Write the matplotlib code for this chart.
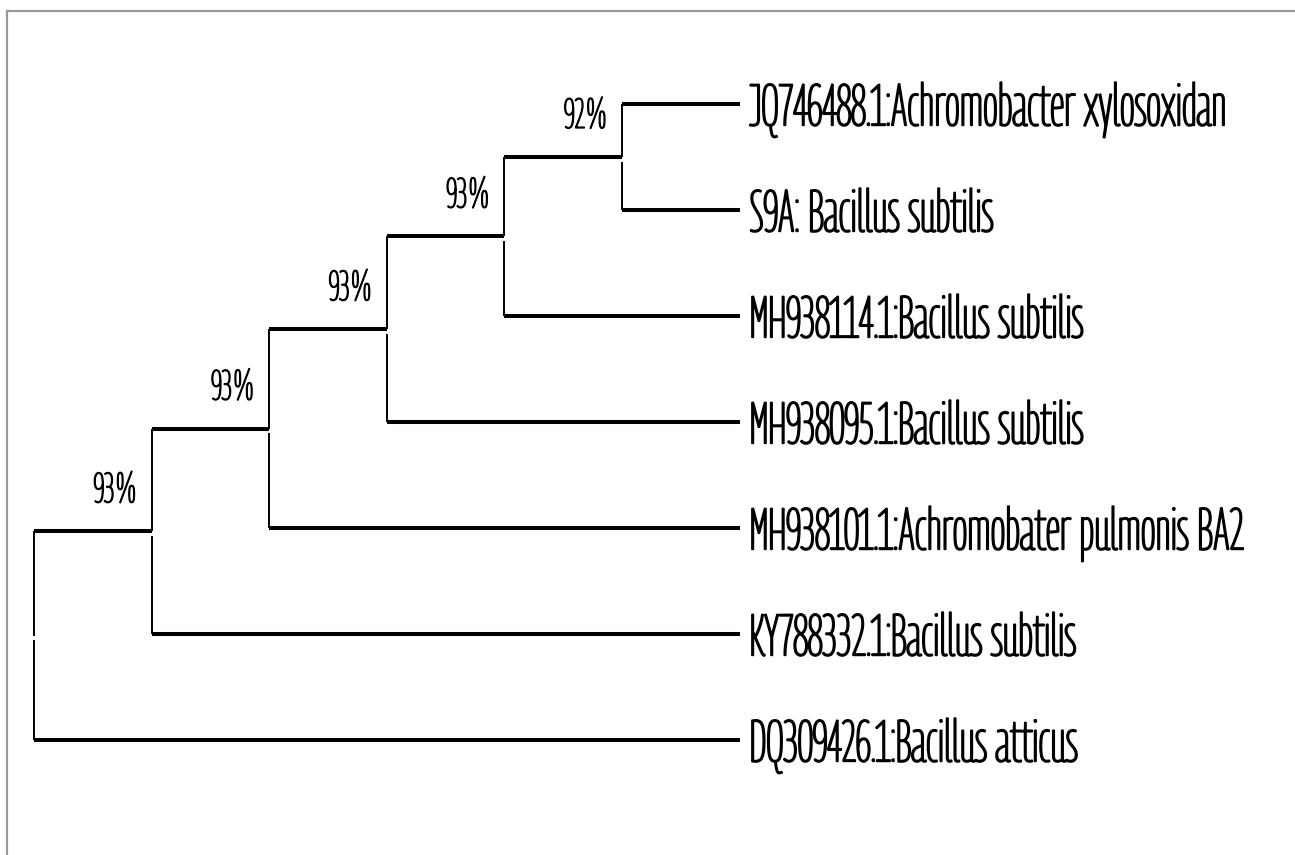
import matplotlib
matplotlib.use('Agg')
import matplotlib.pyplot as plt
import matplotlib.patheffects as pe
from matplotlib.lines import Line2D

plt.rcParams['font.family'] = ['Georama', 'BenchNine', 'Liberation Sans', 'DejaVu Sans']

# taxa, top to bottom
taxa = [
    'JQ746488.1:Achromobacter xylosoxidan',
    'S9A: Bacillus subtilis',
    'MH938114.1:Bacillus subtilis',
    'MH938095.1:Bacillus subtilis',
    'MH938101.1:Achromobater pulmonis BA2',
    'KY788332.1:Bacillus subtilis',
    'DQ309426.1:Bacillus atticus',
]
# topology as nested tuples of taxon indices
tree = ((((((0, 1), 2), 3), 4), 5), 6)
# bootstrap support of the internal nodes, post-order (root has none)
support = [92, 93, 93, 93, 93, None]
tip_depth = 6

H_LW = 2.9   # horizontal branches are drawn heavier
V_LW = 1.4
GAP = 0.045  # little break in the verticals under the joining branch


def layout(node, depth, nodes):
    if isinstance(node, int):
        return tip_depth, float(node)
    kids = [layout(child, depth + 1, nodes) for child in node]
    y = (kids[0][1] + kids[-1][1]) / 2
    nodes.append((depth, y, kids))
    return depth, y


def fit_width(texts, width_px):
    # the original font is very condensed, so size the labels by their width
    renderer = fig.canvas.get_renderer()
    widest = max(t.get_window_extent(renderer).width for t in texts)
    for t in texts:
        t.set_fontsize(t.get_fontsize() * width_px / widest)


nodes = []
layout(tree, 0, nodes)

fig = plt.figure(figsize=(12.95, 8.55), dpi=100)
ax = fig.add_axes([0, 0, 1, 1])
ax.set_xlim(-0.289, 10.723)
ax.set_ylim(7.085, -0.981)
ax.axis('off')

# the condensed face is thin, thicken it a bit
leaf_fx = [pe.withStroke(linewidth=1.4, foreground='black')]
sup_fx = [pe.withStroke(linewidth=1.0, foreground='black')]

sup_texts = []
for (x, y, kids), sup in zip(nodes, support):
    top, bottom = kids[0][1], kids[-1][1]
    ax.plot([x, x], [top, y], color='black', lw=V_LW, solid_capstyle='butt')
    ax.plot([x, x], [y + GAP, bottom], color='black', lw=V_LW, solid_capstyle='butt')
    for kx, ky in kids:
        ax.plot([x, kx], [ky, ky], color='black', lw=H_LW, solid_capstyle='butt')
    if sup is not None:
        sup_texts.append(ax.text(x - 0.12, y - 0.425, f'{sup}%', ha='right',
                                 va='center_baseline', fontsize=30, path_effects=sup_fx))

leaf_texts = [ax.text(tip_depth + 0.085, i, name, ha='left', va='center_baseline',
                      fontsize=30, path_effects=leaf_fx)
              for i, name in enumerate(taxa)]

fit_width(leaf_texts, 495)
fit_width(sup_texts, 44)

# grey frame of the original screenshot (top and left edges)
fig.add_artist(Line2D([7 / 1295, 1], [1 - 11 / 855, 1 - 11 / 855], color='#999999', lw=1.6))
fig.add_artist(Line2D([7 / 1295, 7 / 1295], [0, 1 - 11 / 855], color='#999999', lw=1.6))

fig.savefig('out.png')
